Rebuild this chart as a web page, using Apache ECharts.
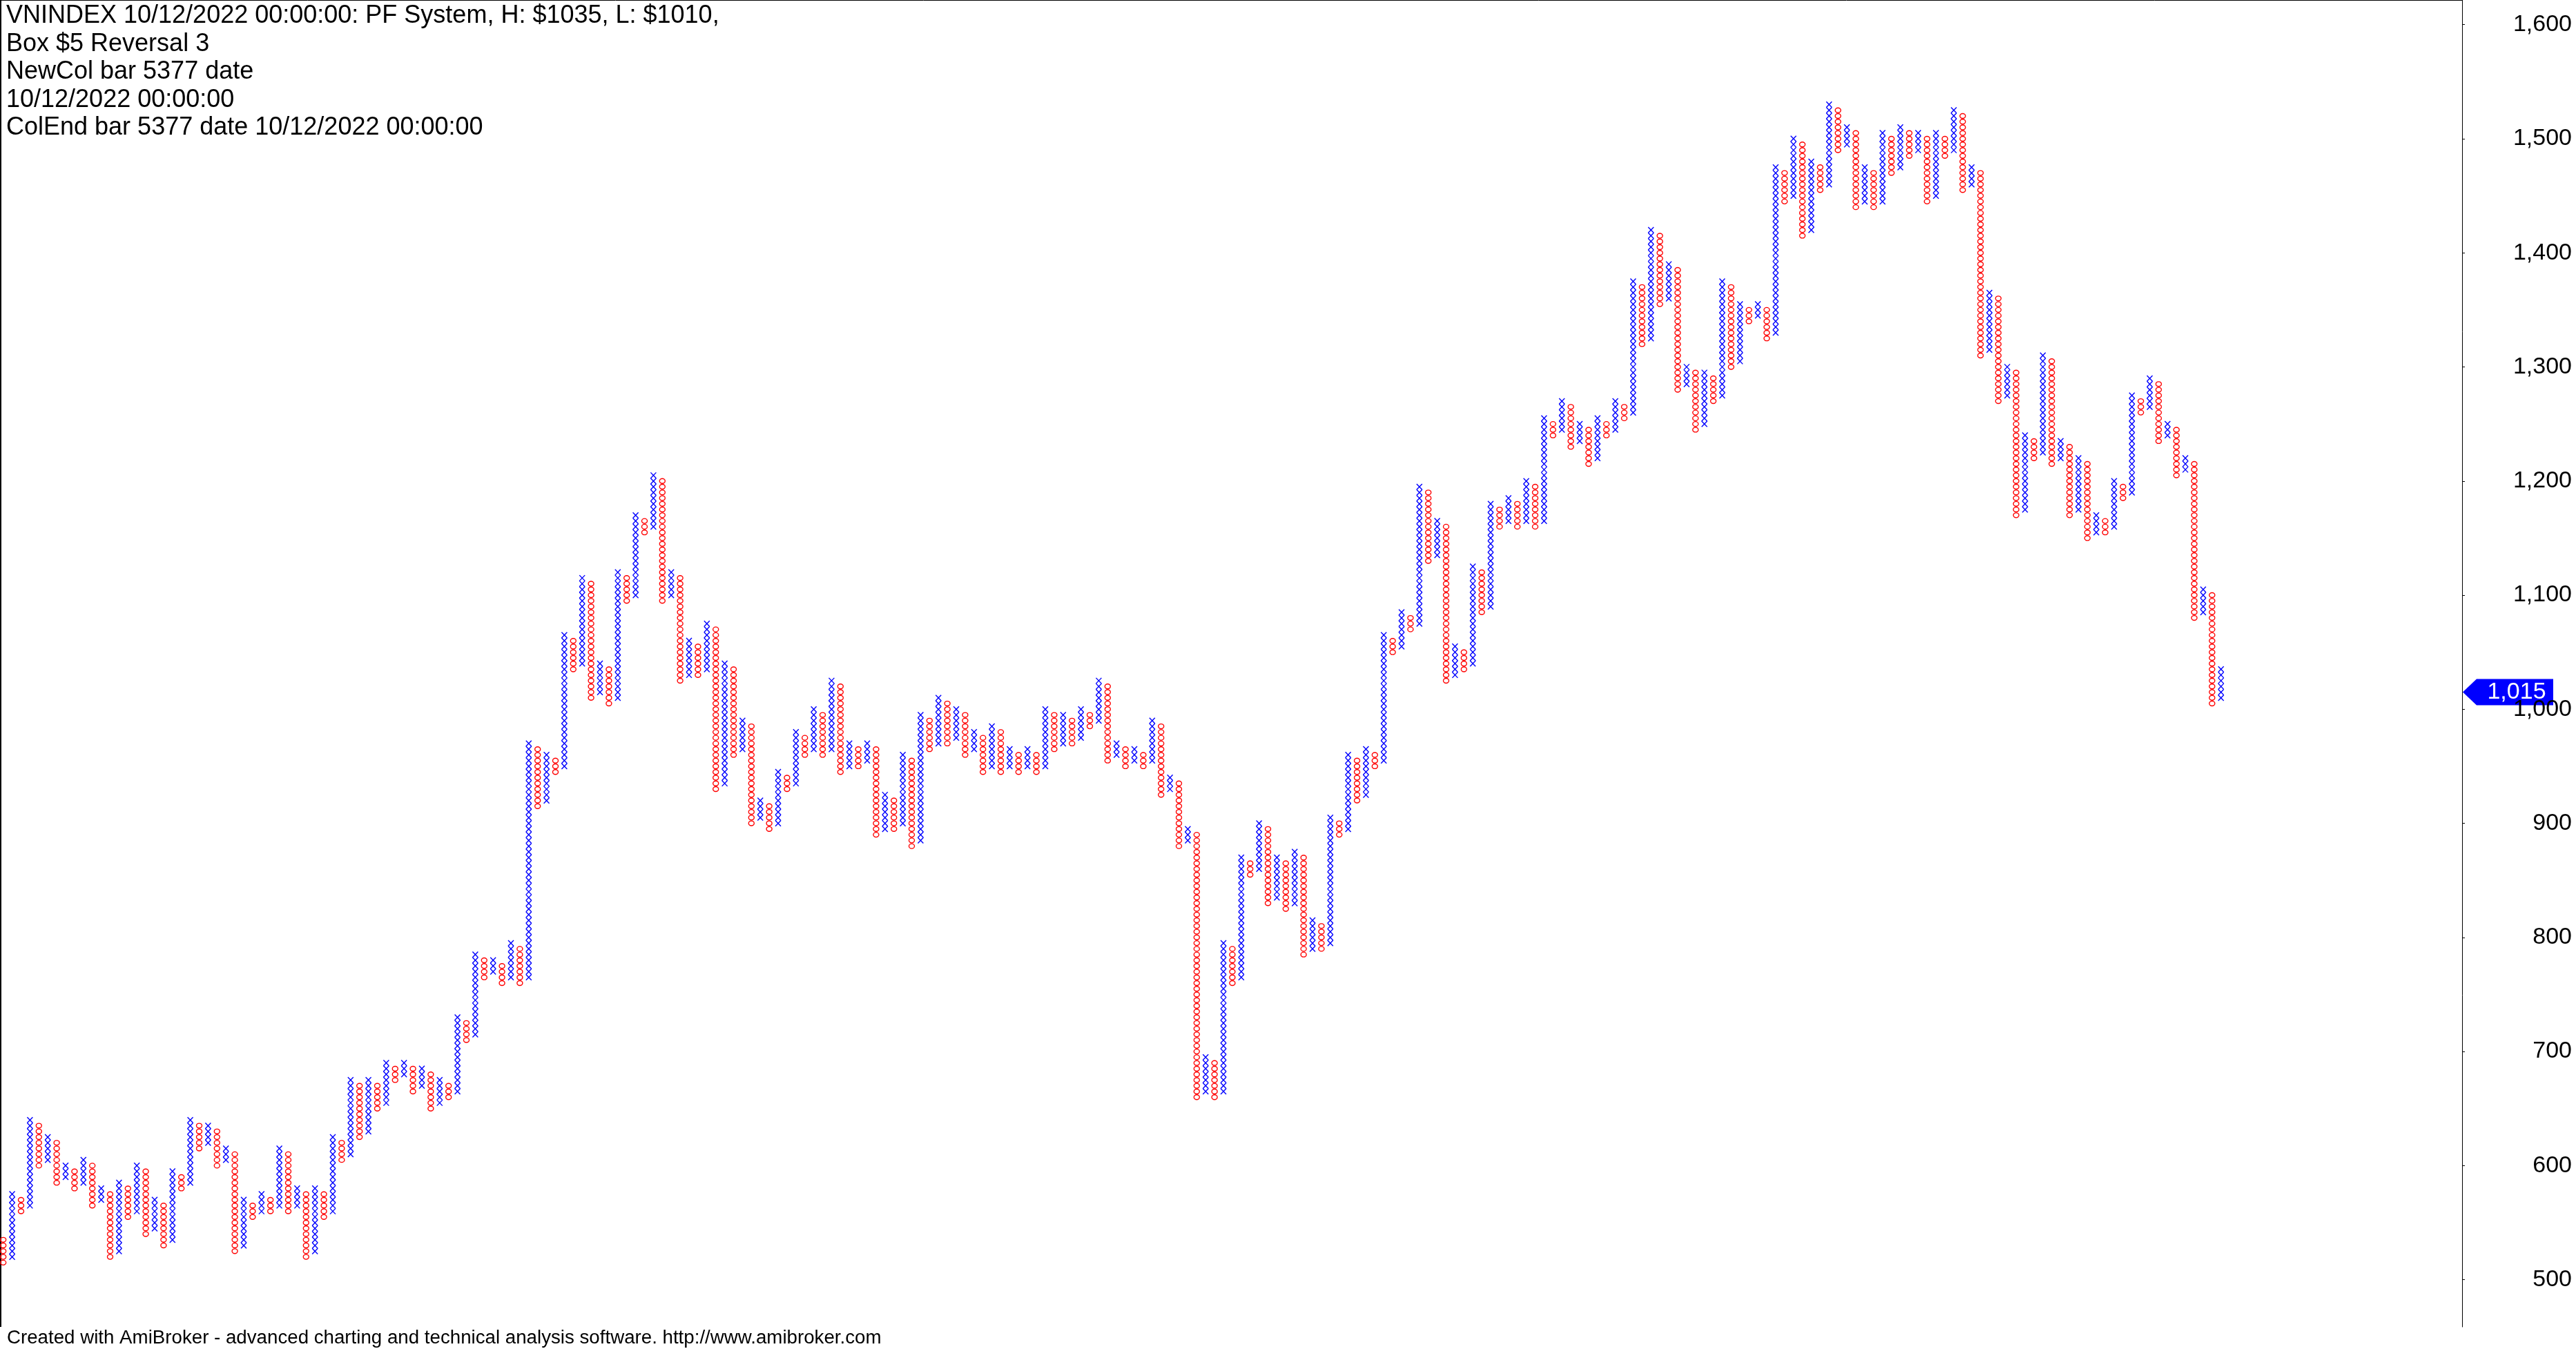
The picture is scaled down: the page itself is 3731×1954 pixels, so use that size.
<!DOCTYPE html>
<html>
<head>
<meta charset="utf-8">
<script src="https://cdn.jsdelivr.net/npm/echarts@6/dist/echarts.min.js"></script>
<style>
html,body{margin:0;padding:0;background:#ffffff;}
#chart{width:3731px;height:1954px;}
</style>
</head>
<body>
<div id="chart"></div>
<script>
// ---------------- data ----------------
const boxSize = 5;              // Box $5
const reversal = 3;             // Reversal 3
const firstColumnType = 'O';    // columns alternate O / X
const colLow = [
  515,520,560,565,600,605,585,590,580,585, 565,570,520,525,555,560,540,545,530,535,
  580,585,615,620,600,605,525,530,555,560, 560,565,560,565,520,525,555,560,605,610,
  625,630,650,655,675,680,665,670,650,655, 660,665,710,715,765,770,760,765,760,765,
  915,920,945,950,1035,1040,1010,1015,1005,1010, 1095,1100,1155,1160,1095,1100,1025,1030,1030,1035,
  930,935,960,965,900,905,895,900,930,935, 960,965,960,965,945,950,950,955,890,895,
  895,900,880,885,965,970,970,975,960,965, 945,950,945,950,945,950,945,950,965,970,
  970,975,985,990,955,960,950,955,950,955, 925,930,880,885,660,665,660,665,760,765,
  855,860,830,835,825,830,785,790,790,795, 890,895,920,925,950,955,1050,1055,1070,1075,
  1130,1135,1025,1030,1035,1040,1085,1090,1160,1165, 1160,1165,1160,1165,1240,1245,1230,1235,1215,1220,
  1240,1245,1255,1260,1320,1325,1355,1360,1280,1285, 1245,1250,1270,1275,1300,1305,1340,1345,1325,1330,
  1445,1450,1415,1420,1455,1460,1490,1495,1440,1445, 1440,1445,1470,1475,1485,1490,1445,1450,1485,1490,
  1455,1460,1310,1315,1270,1275,1170,1175,1220,1225, 1215,1220,1170,1175,1150,1155,1155,1160,1185,1190,
  1260,1265,1235,1240,1205,1210,1080,1085,1005,1010
];
const colHigh = [
  535,575,570,640,635,625,620,600,595,605, 600,580,575,585,580,600,595,570,565,595,
  590,640,635,635,630,615,610,570,565,575, 570,615,610,580,575,580,575,625,620,675,
  670,675,670,690,685,690,685,685,680,675, 670,730,725,785,780,780,775,795,790,970,
  965,960,955,1065,1060,1115,1110,1040,1035,1120, 1115,1170,1165,1205,1200,1120,1115,1060,1055,1075,
  1070,1040,1035,990,985,920,915,945,940,980, 975,1000,995,1025,1020,970,965,970,965,925,
  920,960,955,995,990,1010,1005,1000,995,980, 975,985,980,965,960,965,960,1000,995,995,
  990,1000,995,1025,1020,970,965,965,960,990, 985,940,935,895,890,695,690,795,790,870,
  865,900,895,870,865,875,870,815,810,905, 900,960,955,965,960,1065,1060,1085,1080,1195,
  1190,1165,1160,1055,1050,1125,1120,1180,1175,1185, 1180,1200,1195,1255,1250,1270,1265,1250,1245,1255,
  1250,1270,1265,1375,1370,1420,1415,1390,1385,1300, 1295,1295,1290,1375,1370,1355,1350,1355,1350,1475,
  1470,1500,1495,1480,1475,1530,1525,1510,1505,1475, 1470,1505,1500,1510,1505,1505,1500,1505,1500,1525,
  1520,1475,1470,1365,1360,1300,1295,1240,1235,1310, 1305,1235,1230,1220,1215,1170,1165,1200,1195,1275,
  1270,1290,1285,1250,1245,1220,1215,1105,1100,1035
];
const yTickValues = [500, 600, 700, 800, 900, 1000, 1100, 1200, 1300, 1400, 1500, 1600];
const lastPrice = 1015;
const headerLines = [
  'VNINDEX 10/12/2022 00:00:00: PF System, H: $1035, L: $1010,',
  'Box $5 Reversal 3',
  'NewCol bar 5377 date',
  '10/12/2022 00:00:00',
  'ColEnd bar 5377 date 10/12/2022 00:00:00'
];
const footerText = 'Created with AmiBroker - advanced charting and technical analysis software. http://www.amibroker.com';

// ---------------- chart ----------------
const chart = echarts.init(document.getElementById('chart'), null, { renderer: 'canvas' });

function colType(i) {
  const other = firstColumnType === 'O' ? 'X' : 'O';
  return i % 2 === 0 ? firstColumnType : other;
}
function fmt(v) { return Number(v).toLocaleString('en-US'); }

const pfData = colLow.map((lo, i) => [i, lo, colHigh[i]]);

const GRID = { left: 0, top: 0, width: 3566, height: 1922 };

function staticGraphics() {
  return [
    { type: 'line', shape: { x1: 1, y1: 0, x2: 1, y2: GRID.height }, style: { stroke: '#000', lineWidth: 2 } },
    { type: 'line', shape: { x1: 0, y1: 0.5, x2: GRID.width, y2: 0.5 }, style: { stroke: '#000', lineWidth: 1 } },
    { type: 'text', left: 9, top: 3, style: { text: headerLines.join('\n'), font: '36px "Liberation Sans"', lineHeight: 40.5, fill: '#000' } },
    { type: 'text', left: 10, top: 1923, style: { text: footerText, font: '27.7px "Liberation Sans"', lineHeight: 31, fill: '#000' } }
  ];
}

const option = {
  backgroundColor: '#ffffff',
  animation: false,
  grid: { left: GRID.left, top: GRID.top, width: GRID.width, height: GRID.height, containLabel: false },
  xAxis: {
    type: 'value', min: -0.364, max: 276.07, show: false
  },
  yAxis: {
    type: 'value', position: 'right', min: 458.65, max: 1621.6,
    splitLine: { show: false },
    axisLine: { show: true, onZero: false, lineStyle: { color: '#000000', width: 1 } },
    axisTick: { show: true, length: 4, customValues: yTickValues, lineStyle: { color: '#000000' } },
    axisLabel: {
      show: true, customValues: yTickValues, formatter: fmt,
      fontFamily: 'Liberation Sans', fontSize: 34, color: '#000000',
      align: 'right', margin: 159
    }
  },
  series: [{
    type: 'custom',
    clip: false,
    data: pfData,
    encode: { x: 0, y: [1, 2] },
    renderItem: function (params, api) {
      const i = api.value(0), lo = api.value(1), hi = api.value(2);
      const isX = colType(i) === 'X';
      const unitW = api.size([1, 0])[0];
      const boxH = api.size([0, boxSize])[1];
      const hw = unitW * 0.31;
      const children = [];
      for (let v = lo; v <= hi + 0.001; v += boxSize) {
        const p = api.coord([i, v]);
        if (isX) {
          children.push({ type: 'line', shape: { x1: p[0] - hw, y1: p[1] - boxH / 2, x2: p[0] + hw, y2: p[1] + boxH / 2 },
            style: { stroke: '#0000ff', lineWidth: 1.4 } });
          children.push({ type: 'line', shape: { x1: p[0] - hw, y1: p[1] + boxH / 2, x2: p[0] + hw, y2: p[1] - boxH / 2 },
            style: { stroke: '#0000ff', lineWidth: 1.4 } });
        } else {
          children.push({ type: 'ellipse', shape: { cx: p[0], cy: p[1], rx: hw, ry: boxH * 0.42 },
            style: { fill: null, stroke: '#ff0000', lineWidth: 1.4 } });
        }
      }
      return { type: 'group', children: children };
    }
  }],
  graphic: staticGraphics()
};
chart.setOption(option);

// last price marker on the price axis
const yLast = chart.convertToPixel({ yAxisIndex: 0 }, lastPrice);
const ax = GRID.left + GRID.width;
chart.setOption({
  graphic: staticGraphics().concat([
    { type: 'polygon', shape: { points: [[ax + 1, yLast], [ax + 21, yLast - 19], [ax + 132, yLast - 19], [ax + 132, yLast + 19], [ax + 21, yLast + 19]] },
      style: { fill: '#0000ff' } },
    { type: 'text', x: ax + 79, y: yLast, style: { text: fmt(lastPrice), font: '34px "Liberation Sans"', fill: '#ffffff', align: 'center', verticalAlign: 'middle' } }
  ])
}, { replaceMerge: ['graphic'] });
</script>
</body>
</html>
